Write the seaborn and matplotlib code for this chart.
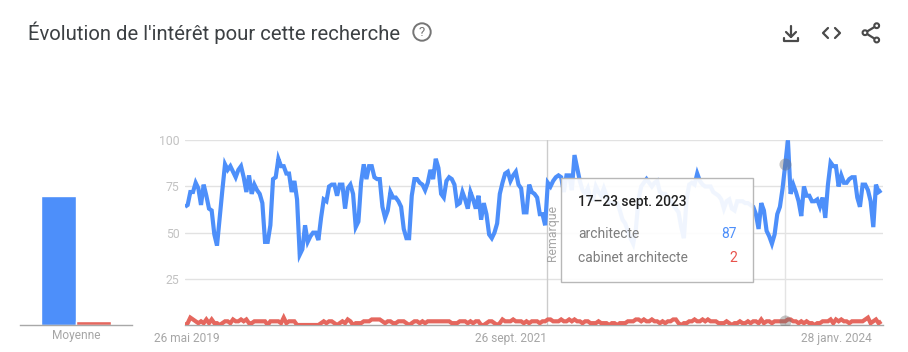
import numpy as np
import pandas as pd
import seaborn as sns
import matplotlib.pyplot as plt
from matplotlib.patches import Rectangle, Circle

# Weekly interest values
architecte = [
    64, 65, 72, 72, 77, 74, 65, 76, 70, 63,
    62, 49, 43, 58, 73, 87, 84, 86, 83, 80,
    84, 86, 80, 72, 81, 71, 76, 73, 71, 66,
    45, 45, 54, 79, 80, 90, 86, 86, 82, 82,
    72, 78, 68, 38, 41, 54, 45, 48, 50, 50,
    46, 58, 68, 67, 75, 76, 76, 70, 76, 76,
    63, 74, 76, 71, 53, 56, 77, 87, 79, 86,
    86, 80, 79, 79, 64, 58, 62, 72, 69, 69,
    67, 64, 52, 47, 47, 70, 79, 79, 77, 76,
    73, 77, 84, 79, 90, 85, 71, 69, 78, 80,
    79, 76, 65, 66, 72, 68, 63, 72, 68, 63,
    70, 57, 66, 60, 49, 47, 50, 55, 71, 77,
    82, 83, 78, 81, 83, 76, 74, 61, 61, 76,
    72, 71, 69, 60, 60, 54, 77, 75, 78, 80,
    81, 80, 72, 81, 81, 73, 92, 85, 78, 73,
    71, 74, 68, 68, 75, 72, 70, 74, 70, 66,
    66, 66, 66, 62, 57, 55, 51, 47, 44, 52,
    68, 75, 77, 79, 77, 75, 77, 78, 72, 71,
    71, 69, 68, 65, 63, 61, 53, 47, 68, 76,
    77, 76, 82, 78, 76, 75, 75, 75, 72, 71,
    70, 68, 63, 67, 68, 63, 62, 67, 67, 67,
    66, 66, 65, 64, 60, 52, 66, 62, 51, 48,
    44, 49, 60, 64, 74, 87, 100, 71, 76, 72,
    67, 59, 75, 70, 70, 67, 67, 68, 64, 69,
    58, 76, 88, 86, 86, 75, 81, 77, 77, 79,
    80, 80, 69, 64, 76, 76, 73, 67, 53, 76, 72, 73,
]
cabinet = [
    0, 1, 4, 3, 2, 1, 2, 1, 3, 1,
    3, 1, 1, 0, 1, 2, 2, 1, 3, 2,
    2, 3, 2, 3, 1, 1, 2, 2, 2, 2,
    2, 0, 2, 2, 2, 2, 1, 4, 1, 2,
    2, 2, 0, 0, 0, 0, 0, 0, 0, 0,
    0, 1, 2, 1, 2, 2, 1, 0, 1, 2,
    1, 3, 2, 0, 1, 1, 1, 2, 2, 2,
    3, 3, 3, 3, 2, 1, 2, 2, 1, 1,
    2, 2, 2, 1, 0, 1, 2, 2, 1, 2,
    1, 2, 2, 2, 2, 2, 2, 2, 2, 2,
    1, 1, 1, 2, 2, 2, 1, 2, 1, 2,
    2, 0, 0, 1, 2, 2, 1, 0, 1, 3,
    2, 2, 2, 3, 2, 2, 2, 1, 2, 1,
    2, 2, 2, 1, 2, 2, 3, 3, 2, 2,
    2, 3, 2, 2, 3, 2, 3, 2, 2, 1,
    2, 2, 1, 1, 1, 2, 1, 1, 1, 0,
    1, 1, 0, 1, 1, 1, 2, 2, 2, 3,
    3, 2, 3, 2, 2, 3, 2, 2, 1, 2,
    1, 2, 2, 3, 3, 1, 0, 1, 1, 2,
    2, 3, 2, 2, 3, 2, 3, 2, 2, 2,
    1, 1, 1, 2, 1, 0, 1, 1, 2, 1,
    1, 2, 1, 2, 2, 1, 3, 1, 2, 2,
    1, 2, 2, 2, 2, 2, 3, 3, 2, 2,
    1, 2, 1, 2, 1, 1, 0, 1, 1, 2,
    2, 2, 3, 1, 3, 2, 3, 2, 2, 1,
    2, 2, 2, 2, 2, 3, 4, 1, 2, 3, 1, 2,
]
terms = ['architecte', 'cabinet architecte']
averages = [70, 2]
y_ticks = [25, 50, 75, 100]
x_tick_weeks = [13, 135.5, 257.5]
x_tick_labels = ['26 mai 2019', '26 sept. 2021', '28 janv. 2024']
note_week = 135.6
hover_week = 225

BLUE = '#4d8ffa'
RED = '#e5675e'
W, H = 908, 352

sns.set_style('white')
plt.rcParams['font.family'] = ['Roboto', 'DejaVu Sans']

df = pd.DataFrame({'week': np.arange(len(architecte)), 'architecte': architecte,
                   'cabinet architecte': cabinet})
df_long = df.melt(id_vars='week', var_name='terme', value_name='interet')
df_avg = pd.DataFrame({'label': ['Moyenne', 'Moyenne'], 'terme': terms, 'moyenne': averages})

fig = plt.figure(figsize=(W / 100, H / 100), dpi=100)


def px_axes(left, right, top, bottom):
    return fig.add_axes([left / W, 1 - bottom / H, (right - left) / W, (bottom - top) / H])


# Main time series
ax = px_axes(185, 882.5, 140.3, 325)
ax.axvline(note_week, color='#cccccc', lw=1, zorder=1)
ax.axvline(hover_week, color='#e4e4e4', lw=1, zorder=1)
sns.lineplot(data=df_long, x='week', y='interet', hue='terme', hue_order=terms,
             palette=[BLUE, RED], lw=3.0, legend=False, ax=ax, zorder=3,
             solid_joinstyle='miter', solid_capstyle='butt')
ax.scatter([hover_week, hover_week], [architecte[hover_week], cabinet[hover_week]],
           s=75, color='#6f6f6f', alpha=0.4, lw=0, zorder=4)
ax.set_xlim(0, 261.45)
ax.set_ylim(0, 100)
ax.set_yticks(y_ticks)
ax.set_yticklabels(y_ticks, color='#c2c2c2', fontsize=8.8)
ax.set_xticks(x_tick_weeks)
ax.set_xticklabels(x_tick_labels, color='#a6a6a6', fontsize=8.6, ha='right')
ax.tick_params(axis='both', length=0)
ax.tick_params(axis='x', pad=5)
ax.tick_params(axis='y', pad=4)
ax.set_xlabel('')
ax.set_ylabel('')
ax.grid(axis='y', color='#e2e2e2', lw=1)
ax.set_axisbelow(True)
for side in ['top', 'left', 'right']:
    ax.spines[side].set_visible(False)
ax.spines['bottom'].set_color('#a8a8a8')
ax.spines['bottom'].set_linewidth(1)

# Average bars
ax2 = px_axes(20, 132, 140.3, 325)
sns.barplot(data=df_avg, x='label', y='moyenne', hue='terme', hue_order=terms,
            palette=[BLUE, RED], width=0.62, gap=0, saturation=1, legend=False, ax=ax2)
ax2.set_xlim(-0.5, 0.5)
ax2.set_ylim(0, 100)
ax2.set_yticks([])
ax2.set_xlabel('')
ax2.set_ylabel('')
ax2.tick_params(axis='x', length=0, pad=3, labelsize=8.6, labelcolor='#a6a6a6')
for side in ['top', 'left', 'right']:
    ax2.spines[side].set_visible(False)
ax2.spines['bottom'].set_color('#a8a8a8')
ax2.spines['bottom'].set_linewidth(1)
ax2.patch.set_alpha(0)

# Overlay in pixel coordinates for title, icons and tooltip
ov = fig.add_axes([0, 0, 1, 1], zorder=10)
ov.set_xlim(0, W)
ov.set_ylim(H, 0)
ov.axis('off')

ov.text(28, 33, "Évolution de l'intérêt pour cette recherche", fontsize=14.55,
        color='#3c4043', va='center', ha='left')
ov.add_patch(Circle((422, 32), 8.7, fc='none', ec='#757575', lw=1.4))
ov.text(422, 32.3, '?', fontsize=9.5, color='#757575', ha='center', va='center')

# Download, embed and share icons
icon = dict(color='#4a4a4a', lw=1.6, solid_capstyle='round', solid_joinstyle='round')
ov.plot([791, 791], [26, 37], **icon)
ov.plot([786, 791, 796], [32, 37, 32], **icon)
ov.plot([784, 784, 798, 798], [37.5, 41, 41, 37.5], **icon)
ov.plot([828, 823, 828], [28, 33, 38], **icon)
ov.plot([835, 840, 835], [28, 33, 38], **icon)
ov.plot([876.7, 865, 876.7], [25.7, 32.7, 40], **icon)
for cx, cy in [(876.7, 25.7), (865, 32.7), (876.7, 40)]:
    ov.add_patch(Circle((cx, cy), 2.4, fc='white', ec='#4a4a4a', lw=1.5, zorder=5))

ov.text(553, 233, 'Remarque', rotation=90, fontsize=8.8, color='#a6a6a6',
        ha='center', va='center')

# Tooltip
ov.add_patch(Rectangle((561, 177.5), 192, 104.5, fc=(1, 1, 1, 0.92), ec='#b8b8b8', lw=1))
ov.text(578, 202, '17–23 sept. 2023', fontsize=9.9, fontweight='medium', color='#212121',
        va='center', ha='left')
ov.text(578, 234, 'architecte', fontsize=9.9, color='#7d7d7d', va='center', ha='left')
ov.text(578, 258, 'cabinet architecte', fontsize=9.9, color='#7d7d7d', va='center', ha='left')
ov.text(737, 234, str(architecte[hover_week]), fontsize=10, color=BLUE, va='center', ha='right')
ov.text(737, 258, str(cabinet[hover_week]), fontsize=10, color='#e8534c', va='center', ha='right')

fig.savefig('out.png', dpi=100)
